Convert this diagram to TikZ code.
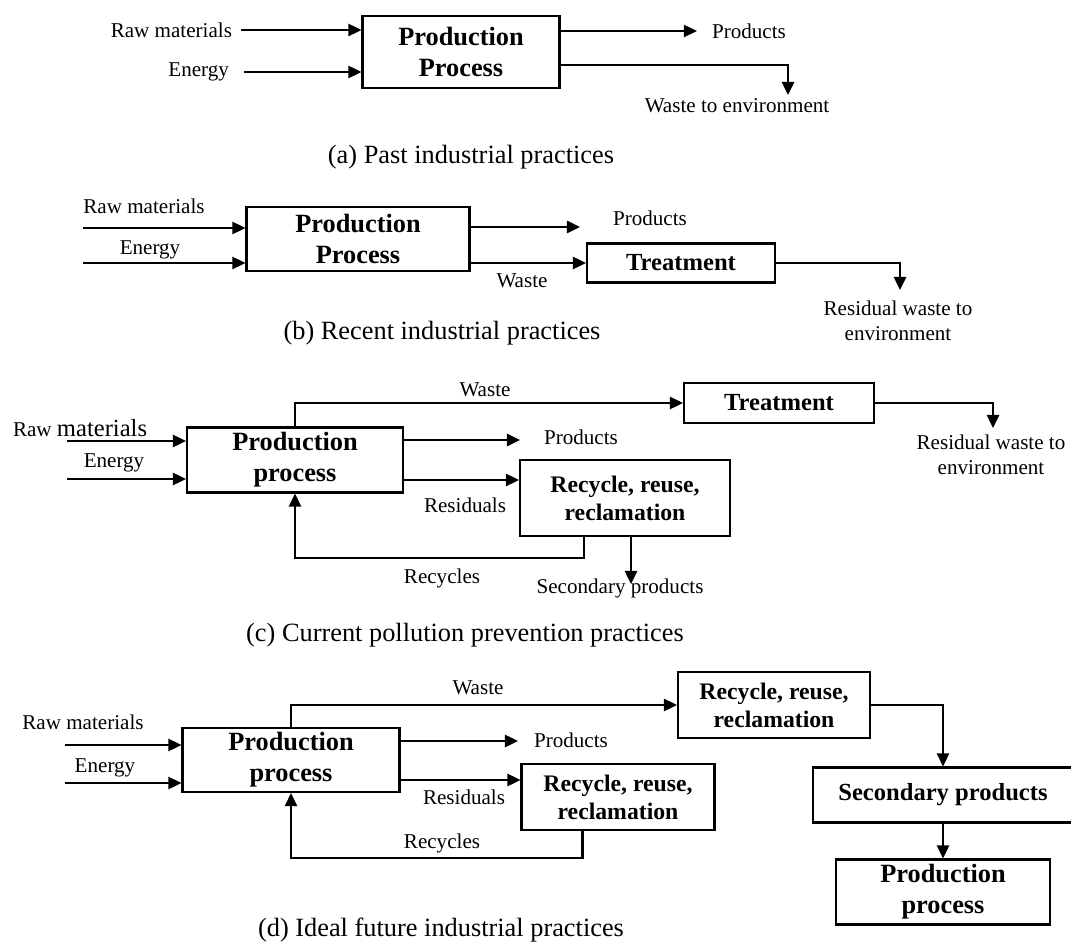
\documentclass[tikz,border=0pt]{standalone}
\usepackage{fontspec}
\setmainfont{Liberation Serif}
\usetikzlibrary{arrows.meta}

\begin{document}
\begin{tikzpicture}[x=0.02cm, y=-0.02cm, line width=1.2pt,
  flow/.style={-{Triangle[length=7.5pt,width=7pt]}},
  box/.style={draw, align=center, inner sep=1pt, font=\fontsize{15}{17.5}\selectfont\bfseries},
  recbox/.style={box, font=\fontsize{13.5}{16}\selectfont\bfseries},
  lab/.style={inner sep=0pt, align=center, font=\fontsize{12}{14}\selectfont},
  captxt/.style={inner sep=0pt, font=\fontsize{15}{17}\selectfont}]
  \useasboundingbox (0,0) rectangle (1071,949);

  % (a)
  \node[box, minimum width=3.94cm, minimum height=1.44cm] (a-pp) at (461,52) {Production\\Process};
  \node[lab, anchor=east] (a-raw) at (233,30) {Raw materials};
  \node[lab, anchor=east] (a-en) at (230,72) {Energy};
  \node[lab, anchor=west] (a-prod) at (711,31) {Products};
  \node[lab] (a-env) at (737,106) {Waste to environment};
  \coordinate (a-drop) at (788,95);
  \node[captxt] (a-cap) at (471,157) {(a) Past industrial practices};
  \draw[flow] ([xshift=4.5pt]a-raw.east) -- (a-raw.east -| a-pp.west);
  \draw[flow] ([xshift=8pt]a-en.east) -- (a-en.east -| a-pp.west);
  \draw[flow] (a-pp.east |- a-prod) -- ([xshift=-8pt]a-prod.west);
  \draw[flow] ([yshift=-0.26cm]a-pp.east) -| (a-drop);

  % (b)
  \node[box, minimum width=4.46cm, minimum height=1.28cm] (b-pp) at (358,239) {Production\\Process};
  \node[box, minimum width=3.76cm, minimum height=0.78cm, font=\fontsize{14}{16}\selectfont\bfseries] (b-tr) at (681,263) {Treatment};
  \node[lab] (b-raw) at (144,206) {Raw materials};
  \node[lab] (b-en) at (150,250) {Energy};
  \coordinate (b-raw-in) at (83,228);
  \coordinate (b-en-in) at (83,263);
  \node[lab] (b-prod) at (650,218) {Products};
  \coordinate (b-prod-tip) at (580,227);
  \node[lab] (b-waste) at (522,281) {Waste};
  \coordinate (b-drop) at (900,290);
  \node[lab] (b-env) at (898,321) {Residual waste to\\environment};
  \node[captxt] (b-cap) at (442,333) {(b) Recent industrial practices};
  \draw[flow] (b-raw-in) -- (b-raw-in -| b-pp.west);
  \draw[flow] (b-en-in) -- (b-en-in -| b-pp.west);
  \draw[flow] (b-pp.east |- b-prod-tip) -- (b-prod-tip);
  \draw[flow] (b-pp.east |- b-tr) -- (b-tr.west);
  \draw[flow] (b-tr.east) -| (b-drop);

  % (c)
  \node[box, minimum width=4.32cm, minimum height=1.3cm] (c-pp) at (295,460) {Production\\process};
  \node[box, minimum width=3.8cm, minimum height=0.8cm, font=\fontsize{14}{16}\selectfont\bfseries] (c-tr) at (779,403) {Treatment};
  \node[recbox, minimum width=4.2cm, minimum height=1.52cm] (c-rec) at (625,498) {Recycle, reuse,\\reclamation};
  \node[lab, anchor=west] (c-raw) at (12,428) {Raw {\fontsize{14}{14}\selectfont materials}};
  \node[lab] (c-en) at (114,463) {Energy};
  \coordinate (c-raw-in) at (67,441);
  \coordinate (c-en-in) at (67,479);
  \node[lab] (c-waste) at (485,390) {Waste};
  \coordinate (c-drop) at (993,428);
  \node[lab] (c-env) at (991,455) {Residual waste to\\environment};
  \coordinate (c-prod-tip) at (520,440);
  \node[lab, anchor=west] (c-prod) at (543,437) {Products};
  \node[lab] (c-resid) at (465,505) {Residuals};
  \node[lab] (c-recy) at (442,578) {Recycles};
  \coordinate (c-sec-tip) at (631,584);
  \node[lab] (c-sec) at (620,588) {Secondary products};
  \node[captxt] (c-cap) at (465,635) {(c) Current pollution prevention practices};
  \draw[flow] (c-raw-in) -- (c-raw-in -| c-pp.west);
  \draw[flow] (c-en-in) -- (c-en-in -| c-pp.west);
  \draw[flow] (c-pp.north) |- (c-tr.west);
  \draw[flow] (c-tr.east) -| (c-drop);
  \draw[flow] (c-pp.east |- c-prod-tip) -- (c-prod-tip);
  \draw[flow] ([yshift=-0.4cm]c-pp.east) -- ([yshift=-0.4cm]c-pp.east -| c-rec.west);
  \draw[flow] ([xshift=-0.82cm]c-rec.south) -- ++(0,21) -| (c-pp.south);
  \draw[flow] (c-rec.south -| c-sec-tip) -- (c-sec-tip);

  % (d)
  \node[box, minimum width=4.34cm, minimum height=1.28cm] (d-pp) at (291,760) {Production\\process};
  \node[recbox, minimum width=3.84cm, minimum height=1.32cm] (d-rec1) at (774,705) {Recycle, reuse,\\reclamation};
  \node[box, minimum width=5.2cm, minimum height=1.1cm, font=\fontsize{14}{16}\selectfont\bfseries] (d-sec) at (943,795) {Secondary products};
  \node[box, minimum width=4.28cm, minimum height=1.3cm] (d-pp2) at (943,892) {Production\\process};
  \node[recbox, minimum width=3.86cm, minimum height=1.32cm] (d-rec2) at (618,797) {Recycle, reuse,\\reclamation};
  \node[lab] (d-raw) at (83,722) {Raw materials};
  \node[lab] (d-en) at (105,768) {Energy};
  \coordinate (d-raw-in) at (65,745);
  \coordinate (d-en-in) at (65,783);
  \node[lab] (d-waste) at (478,688) {Waste};
  \coordinate (d-prod-tip) at (518,741);
  \node[lab, anchor=west] (d-prod) at (533,740) {Products};
  \node[lab] (d-resid) at (464,797) {Residuals};
  \node[lab] (d-recy) at (442,843) {Recycles};
  \node[captxt] (d-cap) at (441,930) {(d) Ideal future industrial practices};
  \draw[flow] (d-raw-in) -- (d-raw-in -| d-pp.west);
  \draw[flow] (d-en-in) -- (d-en-in -| d-pp.west);
  \draw[flow] (d-pp.north) |- (d-rec1.west);
  \draw[flow] (d-rec1.east) -| (d-sec.north);
  \draw[flow] (d-sec.south) -- (d-pp2.north);
  \draw[flow] (d-pp.east |- d-prod-tip) -- (d-prod-tip);
  \draw[flow] ([yshift=-0.4cm]d-pp.east) -- ([yshift=-0.4cm]d-pp.east -| d-rec2.west);
  \draw[flow] ([xshift=-0.71cm]d-rec2.south) -- ++(0,27) -| (d-pp.south);
\end{tikzpicture}
\end{document}
